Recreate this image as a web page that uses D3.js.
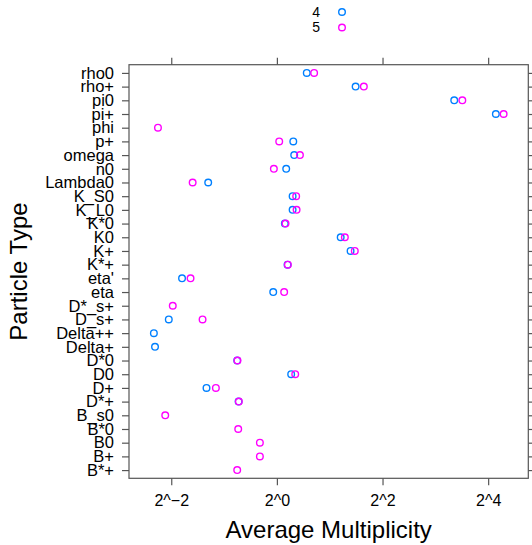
<!DOCTYPE html>
<html>
<head>
<meta charset="utf-8">
<script src="https://cdn.jsdelivr.net/npm/d3@7"></script>
<style>
  html, body { margin: 0; padding: 0; background: #fff; }
  svg { display: block; font-family: "Liberation Sans", Arial, Helvetica, sans-serif; }
</style>
</head>
<body>
<svg id="chart" width="532" height="545"></svg>
<script>
// Particle types, listed top to bottom
const categories = [
  "rho0", "rho+", "pi0", "pi+", "phi", "p+", "omega", "n0", "Lambda0",
  "K_S0", "K_L0", "K*0", "K0", "K+", "K*+", "eta'", "eta", "D*_s+", "D_s+",
  "Delta++", "Delta+", "D*0", "D0", "D+", "D*+", "B_s0", "B*0", "B0", "B+", "B*+"
];

// Average multiplicity per particle type for each group (null = not measured)
const series4 = [
  1.48, 2.81, 10.25, 17.7, null, 1.24, 1.255, 1.13, 0.406,
  1.229, 1.229, 1.11, 2.31, 2.63, 1.15, 0.288, 0.953, null, 0.242,
  0.199, 0.202, 0.594, 1.206, 0.397, 0.605, null, null, null, null, null
];
const series5 = [
  1.63, 3.13, 11.4, 19.6, 0.210, 1.031, 1.353, 0.961, 0.331,
  1.288, 1.295, 1.12, 2.44, 2.78, 1.155, 0.322, 1.10, 0.255, 0.377,
  null, null, 0.596, 1.272, 0.449, 0.607, 0.231, 0.602, 0.80, 0.80, 0.594
];

const groupNames = ["4", "5"];
const groupColors = ["#0080ff", "#ff00ff"];

// Axis ticks on the log2 scale
const tickValues = [0.25, 1, 4, 16];
const tickLabels = ["2^\u22122", "2^0", "2^2", "2^4"];

const svg = d3.select("#chart");
const panel = { left: 129, right: 528.3, top: 64.7, bottom: 478.3 };

const x = d3.scaleLog().base(2)
  .domain([Math.pow(2, -2.8), Math.pow(2, 4.76)])
  .range([panel.left, panel.right]);

const y = d3.scalePoint()
  .domain(categories)
  .range([panel.top, panel.bottom])
  .padding(0.6);

const axisColor = "#555";

function styleAxis(g) {
  g.select(".domain").remove();
  g.selectAll(".tick line").attr("stroke", axisColor).attr("stroke-width", 1.2);
  g.selectAll(".tick text").attr("fill", "#000");
}

// Bottom axis with labels
svg.append("g")
  .attr("transform", `translate(0,${panel.bottom})`)
  .call(d3.axisBottom(x).tickValues(tickValues)
    .tickFormat((d, i) => tickLabels[i]).tickSize(7).tickPadding(9))
  .call(styleAxis)
  .call(g => g.selectAll(".tick text").attr("font-size", 16).attr("font-family", null));

// Top axis, ticks only
svg.append("g")
  .attr("transform", `translate(0,${panel.top})`)
  .call(d3.axisTop(x).tickValues(tickValues).tickFormat("").tickSize(7))
  .call(styleAxis);

// Left axis with particle names
svg.append("g")
  .attr("transform", `translate(${panel.left},0)`)
  .call(d3.axisLeft(y).tickSize(7).tickPadding(8))
  .call(styleAxis)
  .call(g => g.selectAll(".tick text").attr("font-size", 16.5).attr("font-family", null));

// Right axis, ticks only
svg.append("g")
  .attr("transform", `translate(${panel.right},0)`)
  .call(d3.axisRight(y).tickFormat("").tickSize(7))
  .call(styleAxis);

// Panel frame
svg.append("rect")
  .attr("x", panel.left).attr("y", panel.top)
  .attr("width", panel.right - panel.left)
  .attr("height", panel.bottom - panel.top)
  .attr("fill", "none")
  .attr("stroke", axisColor)
  .attr("stroke-width", 1.2);

// Points, group 4 first then group 5
[series4, series5].forEach((vals, gi) => {
  const pts = categories.map((c, i) => ({ c, v: vals[i] })).filter(d => d.v != null);
  svg.append("g").selectAll("circle")
    .data(pts)
    .join("circle")
    .attr("cx", d => x(d.v))
    .attr("cy", d => y(d.c))
    .attr("r", 3.3)
    .attr("fill", "none")
    .attr("stroke", groupColors[gi])
    .attr("stroke-width", 1.4);
});

// Legend
const legend = svg.append("g");
groupNames.forEach((name, i) => {
  const ly = 12 + i * 15.5;
  legend.append("text")
    .attr("x", 320).attr("y", ly)
    .attr("dy", "0.35em")
    .attr("text-anchor", "end")
    .attr("font-size", 14)
    .text(name);
  legend.append("circle")
    .attr("cx", 342).attr("cy", ly)
    .attr("r", 3.3)
    .attr("fill", "none")
    .attr("stroke", groupColors[i])
    .attr("stroke-width", 1.4);
});

// Axis titles
svg.append("text")
  .attr("x", (panel.left + panel.right) / 2)
  .attr("y", 538)
  .attr("text-anchor", "middle")
  .attr("font-size", 24)
  .text("Average Multiplicity");

svg.append("text")
  .attr("transform", `translate(27,${(panel.top + panel.bottom) / 2}) rotate(-90)`)
  .attr("text-anchor", "middle")
  .attr("font-size", 24)
  .text("Particle Type");
</script>
</body>
</html>
